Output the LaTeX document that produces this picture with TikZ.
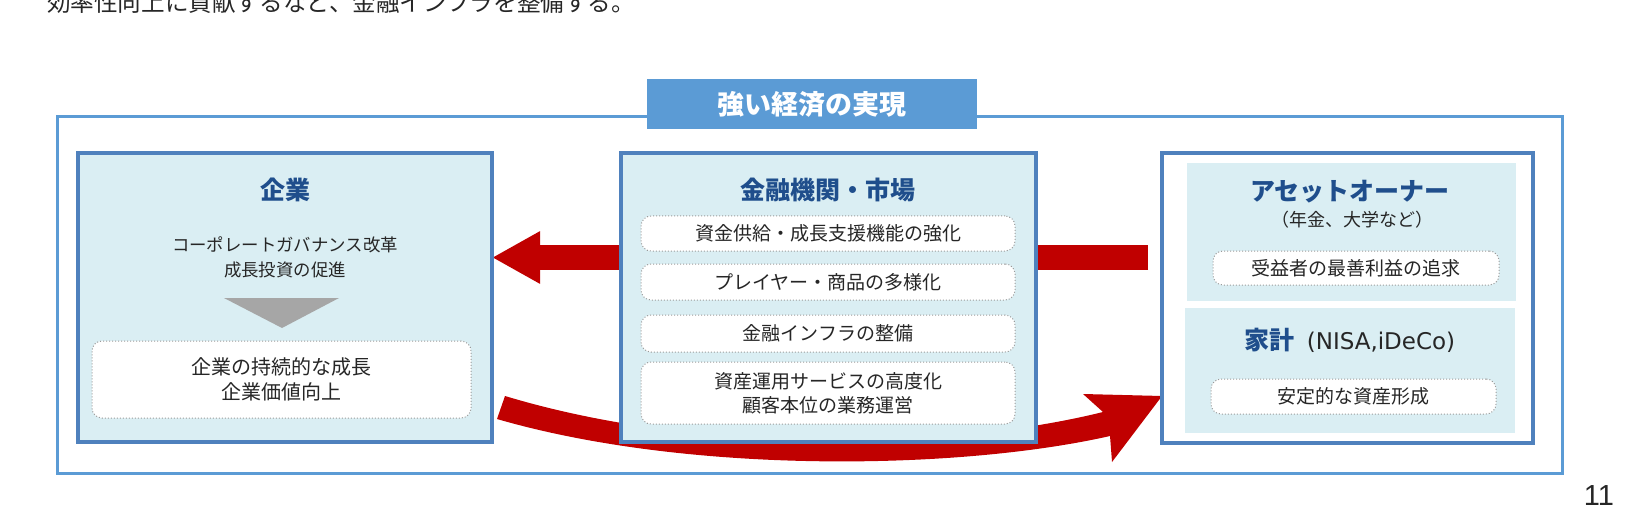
\documentclass[tikz,border=0pt]{standalone}
\usepackage{fontspec}
\setmainfont{Noto Sans CJK JP}
\newfontfamily\versans{DejaVu Sans}
\newfontfamily\pagefont{Liberation Sans}
\usetikzlibrary{arrows.meta,backgrounds}
\definecolor{framecol}{HTML}{5B9BD5}
\definecolor{edgecol}{HTML}{4F81BD}
\definecolor{panelcol}{HTML}{DAEEF3}
\definecolor{headcol}{HTML}{1F4E8C}
\definecolor{arrowcol}{HTML}{C00000}
\definecolor{textcol}{HTML}{262626}
\definecolor{tricol}{HTML}{A6A6A6}
\definecolor{dotcol}{HTML}{9A9A9A}

\begin{document}
\begin{tikzpicture}[x=0.5pt,y=-0.5pt,
  every node/.style={inner sep=0pt,outer sep=0pt,text=textcol},
  panel/.style={draw=edgecol,line width=2.2pt,fill=panelcol},
  item/.style={draw=dotcol,densely dotted,line width=0.5pt,fill=white,rounded corners=5pt,
    align=center,font=\fontsize{9.5}{12}\selectfont},
  heading/.style={text=headcol,font=\fontsize{12.5}{15}\selectfont\bfseries}]
  \useasboundingbox (0,0) rectangle (1625,518);
  \clip (0,0) rectangle (1625,518);

  \node[anchor=base west,font=\fontsize{11.8}{14}\selectfont] (lead) at (47,12) {効率性向上に貢献するなど、金融インフラを整備する。};

  \node[draw=framecol,line width=1.5pt,minimum width=752.5pt,minimum height=178pt] (frame) at (809.5,295) {};
  \node[fill=framecol,minimum width=165pt,minimum height=25pt,text=white,
    font=\fontsize{13.5}{16}\selectfont\bfseries] (goal) at (812,104) {強い経済の実現};

  \node[panel,minimum width=207pt,minimum height=144.5pt] (corp) at (285,297.5) {};
  \node[heading] (corptitle) at (285,190) {企業};
  \node[align=center,font=\fontsize{8.7}{12.5}\selectfont] (corpdo) at (285,257.5) {コーポレートガバナンス改革\\成長投資の促進};
  \fill[tricol] (224,298) -- (339,298) -- (282,328) -- cycle;
  \node[item,minimum width=189.5pt,minimum height=38.5pt,font=\fontsize{10}{12.5}\selectfont] (corpgoal) at (281.5,379.5) {企業の持続的な成長\\企業価値向上};

  \node[panel,minimum width=207.5pt,minimum height=144.5pt] (fin) at (828.5,297.5) {};
  \node[heading] (fintitle) at (828,190) {金融機関・市場};
  \node[item,minimum width=187pt,minimum height=17.5pt] (supply) at (828,233.5) {資金供給・成長支援機能の強化};
  \node[item,minimum width=187pt,minimum height=18pt] (players) at (828,282) {プレイヤー・商品の多様化};
  \node[item,minimum width=187pt,minimum height=18.5pt] (infra) at (828,333.5) {金融インフラの整備};
  \node[item,minimum width=187pt,minimum height=31pt] (asset) at (828,393) {資産運用サービスの高度化\\顧客本位の業務運営};

  \node[draw=edgecol,line width=2.2pt,fill=white,minimum width=185.5pt,minimum height=145pt] (own) at (1347.5,298) {};
  \node[fill=panelcol,minimum width=164.5pt,minimum height=69pt] (owner) at (1351.5,232) {};
  \node[fill=panelcol,minimum width=165pt,minimum height=62.5pt] (house) at (1350,370.5) {};
  \node[heading] (ownertitle) at (1350,192) {アセットオーナー};
  \node[font=\fontsize{9}{11}\selectfont] (ownersub) at (1352,220) {（年金、大学など）};
  \node[item,minimum width=143pt,minimum height=17pt] (benefit) at (1356,268) {受益者の最善利益の追求};
  \node (housetitle) at (1350,340) {{\color{headcol}\fontsize{12.5}{15}\selectfont\bfseries 家計}\hspace{6pt}{\versans\fontsize{11.5}{13}\selectfont (NISA,iDeCo)}};
  \node[item,minimum width=142.5pt,minimum height=17.5pt] (wealth) at (1353.5,396.5) {安定的な資産形成};

  \node[font=\pagefont\fontsize{14.5}{16}\selectfont] (pagenum) at (1599,496) {11};

  \begin{pgfonlayer}{background}
    \coordinate (lstart) at (1148,257.5);
    \draw[arrowcol,line width=12.5pt,-{Triangle[length=24pt,width=24.5pt]}] (lstart) -- (corp.east |- lstart);
    \coordinate (cs1) at (505,396);
    \coordinate (cs2) at (497,419);
    \coordinate (cn1) at (1103,412);
    \coordinate (cb1) at (1083,394);
    \coordinate (ctip) at (own.west |- cs1);
    \coordinate (cb2) at (1112,462);
    \coordinate (cn2) at (1110,436);
    \fill[arrowcol] (cs1) .. controls (700,455) and (950,450) .. (cn1) -- (cb1) -- (ctip) -- (cb2) -- (cn2)
      .. controls (960,470) and (690,475) .. (cs2) -- cycle;
  \end{pgfonlayer}
\end{tikzpicture}
\end{document}
